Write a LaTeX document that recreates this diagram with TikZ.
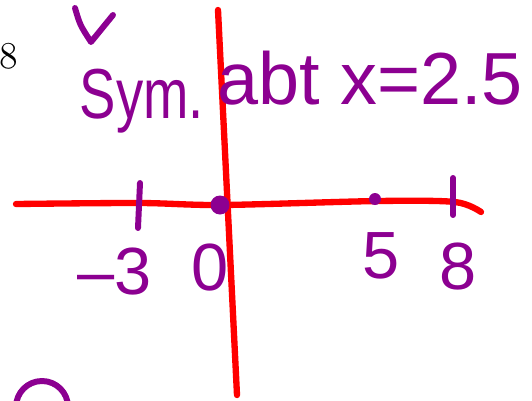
\documentclass[tikz,border=0pt]{standalone}
\usepackage{fontspec}
\setsansfont{Liberation Sans}
\usepackage{tikz}
\usetikzlibrary{arrows.meta,positioning}
\usepackage{xcolor}
\definecolor{inkpurple}{RGB}{140,0,145}
\definecolor{inkred}{RGB}{255,0,0}

\begin{document}
\begin{tikzpicture}[x=0.02cm,y=-0.02cm,
    axis/.style={inkred,line width=3.6pt,line cap=round,line join=round},
    pen/.style={inkpurple,line width=3.4pt,line cap=round,line join=round},
    lbl/.style={inkpurple,font=\sffamily\fontsize{38}{38}\selectfont,inner sep=0pt},
    note/.style={inkpurple,font=\sffamily\fontsize{#1}{#1}\selectfont,inner sep=0pt},
  ]
    \useasboundingbox (0,0) rectangle (532,400);
    \clip (0,0) rectangle (532,400);
    % axes
    \draw[axis] (218,10) -- (237,395);
    \draw[axis] plot[smooth] coordinates {(16,204) (140,203) (222,205) (378,201) (455,202) (481,212)};
    % ticks and points
    \draw[pen] (140,183) -- (138,228);
    \draw[pen] (453,178) -- (453,215);
    \fill[inkpurple] (220,205) circle (0.19cm);
    \fill[inkpurple] (375,199) circle (0.12cm);
    % labels
    \node[lbl] (lblmthree) at (115,272) {–3};
    \node[lbl] (lblzero) at (210,268) {0};
    \node[lbl] (lblfive) at (381,256) {5};
    \node[lbl] (lbleight) at (458,267) {8};
    \node[note=31] (sym) at (142,101) {\scalebox{1}[1.3]{Sym.}};
    \node[note=42] (abt) at (370,78) {abt x=2.5};
    % arrow and margin marks
    \draw[pen] (75,8) .. controls (80,25) .. (91,42) -- (113,15);
    \node[inner sep=0pt] (pagenum) at (9,56) {\scalebox{1.5}{\Large 8}};
    \draw[pen] (16,407) arc[start angle=180,end angle=360,radius=26];
  \end{tikzpicture}
\end{document}
